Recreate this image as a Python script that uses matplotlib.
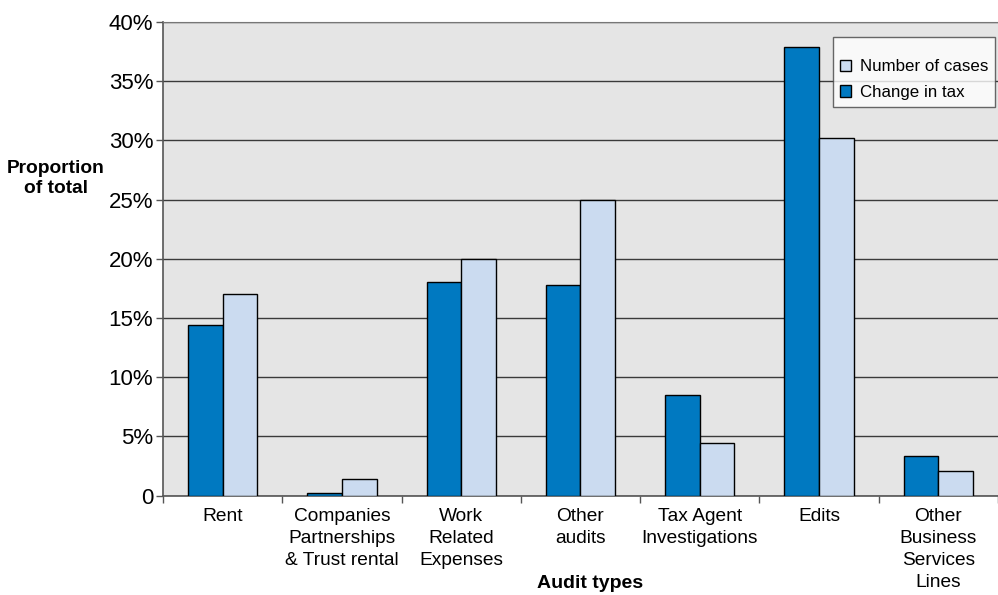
import numpy as np
import matplotlib.pyplot as plt

plt.rcParams['font.family'] = ['Liberation Sans', 'DejaVu Sans']

categories = ['Rent', 'Companies\nPartnerships\n& Trust rental', 'Work\nRelated\nExpenses',
              'Other\naudits', 'Tax Agent\nInvestigations', 'Edits',
              'Other\nBusiness\nServices\nLines']
change_in_tax = [14.4, 0.25, 18.0, 17.8, 8.5, 37.9, 3.3]
number_of_cases = [17.0, 1.4, 20.0, 25.0, 4.4, 30.2, 2.1]
yticks = [0, 5, 10, 15, 20, 25, 30, 35, 40]
ytick_labels = ['0', '5%', '10%', '15%', '20%', '25%', '30%', '35%', '40%']

dark = '#0079c1'
light = '#cbdbf0'
grid_col = '#3a3a3a'

fig = plt.figure(figsize=(9.98, 5.95), dpi=100)
ax = fig.add_axes([0.1633, 0.1672, 0.8367, 0.7958])
ax.set_facecolor('#e5e5e5')

x = np.arange(len(categories))
w = 0.29
b1 = ax.bar(x - w / 2, change_in_tax, w, color=dark, edgecolor='black', linewidth=1.0,
            label='Change in tax', zorder=3)
b2 = ax.bar(x + w / 2, number_of_cases, w, color=light, edgecolor='black', linewidth=1.0,
            label='Number of cases', zorder=3)

ax.set_xlim(-0.5, len(categories) - 0.5)
ax.set_ylim(0, 40)
ax.set_yticks(yticks)
ax.set_yticklabels(ytick_labels, fontsize=16)
ax.set_xticks(x)
ax.set_xticklabels(categories, fontsize=13.8, linespacing=1.38, va='top')
ax.set_xticks(np.arange(len(categories) + 1) - 0.5, minor=True)
ax.tick_params(axis='x', which='major', length=0, pad=9)
ax.tick_params(axis='x', which='minor', length=5, width=1, color='#555555', direction='out')
ax.tick_params(axis='y', length=5, width=1, color='#555555', pad=2)

ax.yaxis.grid(True, color=grid_col, linewidth=1.0, zorder=1)
ax.set_axisbelow(True)
ax.spines['right'].set_visible(False)
ax.spines['top'].set_color('#777777')
ax.spines['left'].set_color('#555555')
ax.spines['bottom'].set_color('#555555')
ax.spines['left'].set_linewidth(1.2)
ax.spines['bottom'].set_linewidth(1.2)

fig.text(0.056, 0.700, 'Proportion\nof total', ha='center', va='center',
         fontsize=13.8, fontweight='bold', linespacing=1.3)
fig.text(0.591, 0.02, 'Audit types', ha='center', va='center',
         fontsize=14, fontweight='bold')

leg = ax.legend(handles=[b2, b1], loc='upper right', bbox_to_anchor=(0.9965, 0.968),
                fontsize=12.2, frameon=True, fancybox=False, handlelength=0.65,
                handleheight=0.65, handletextpad=0.55, borderpad=0.4, labelspacing=0.62,
                title=' ', title_fontsize=4, borderaxespad=0)
leg.get_frame().set_edgecolor('#444444')
leg.get_frame().set_linewidth(1.0)

fig.savefig('out.png', dpi=100)
